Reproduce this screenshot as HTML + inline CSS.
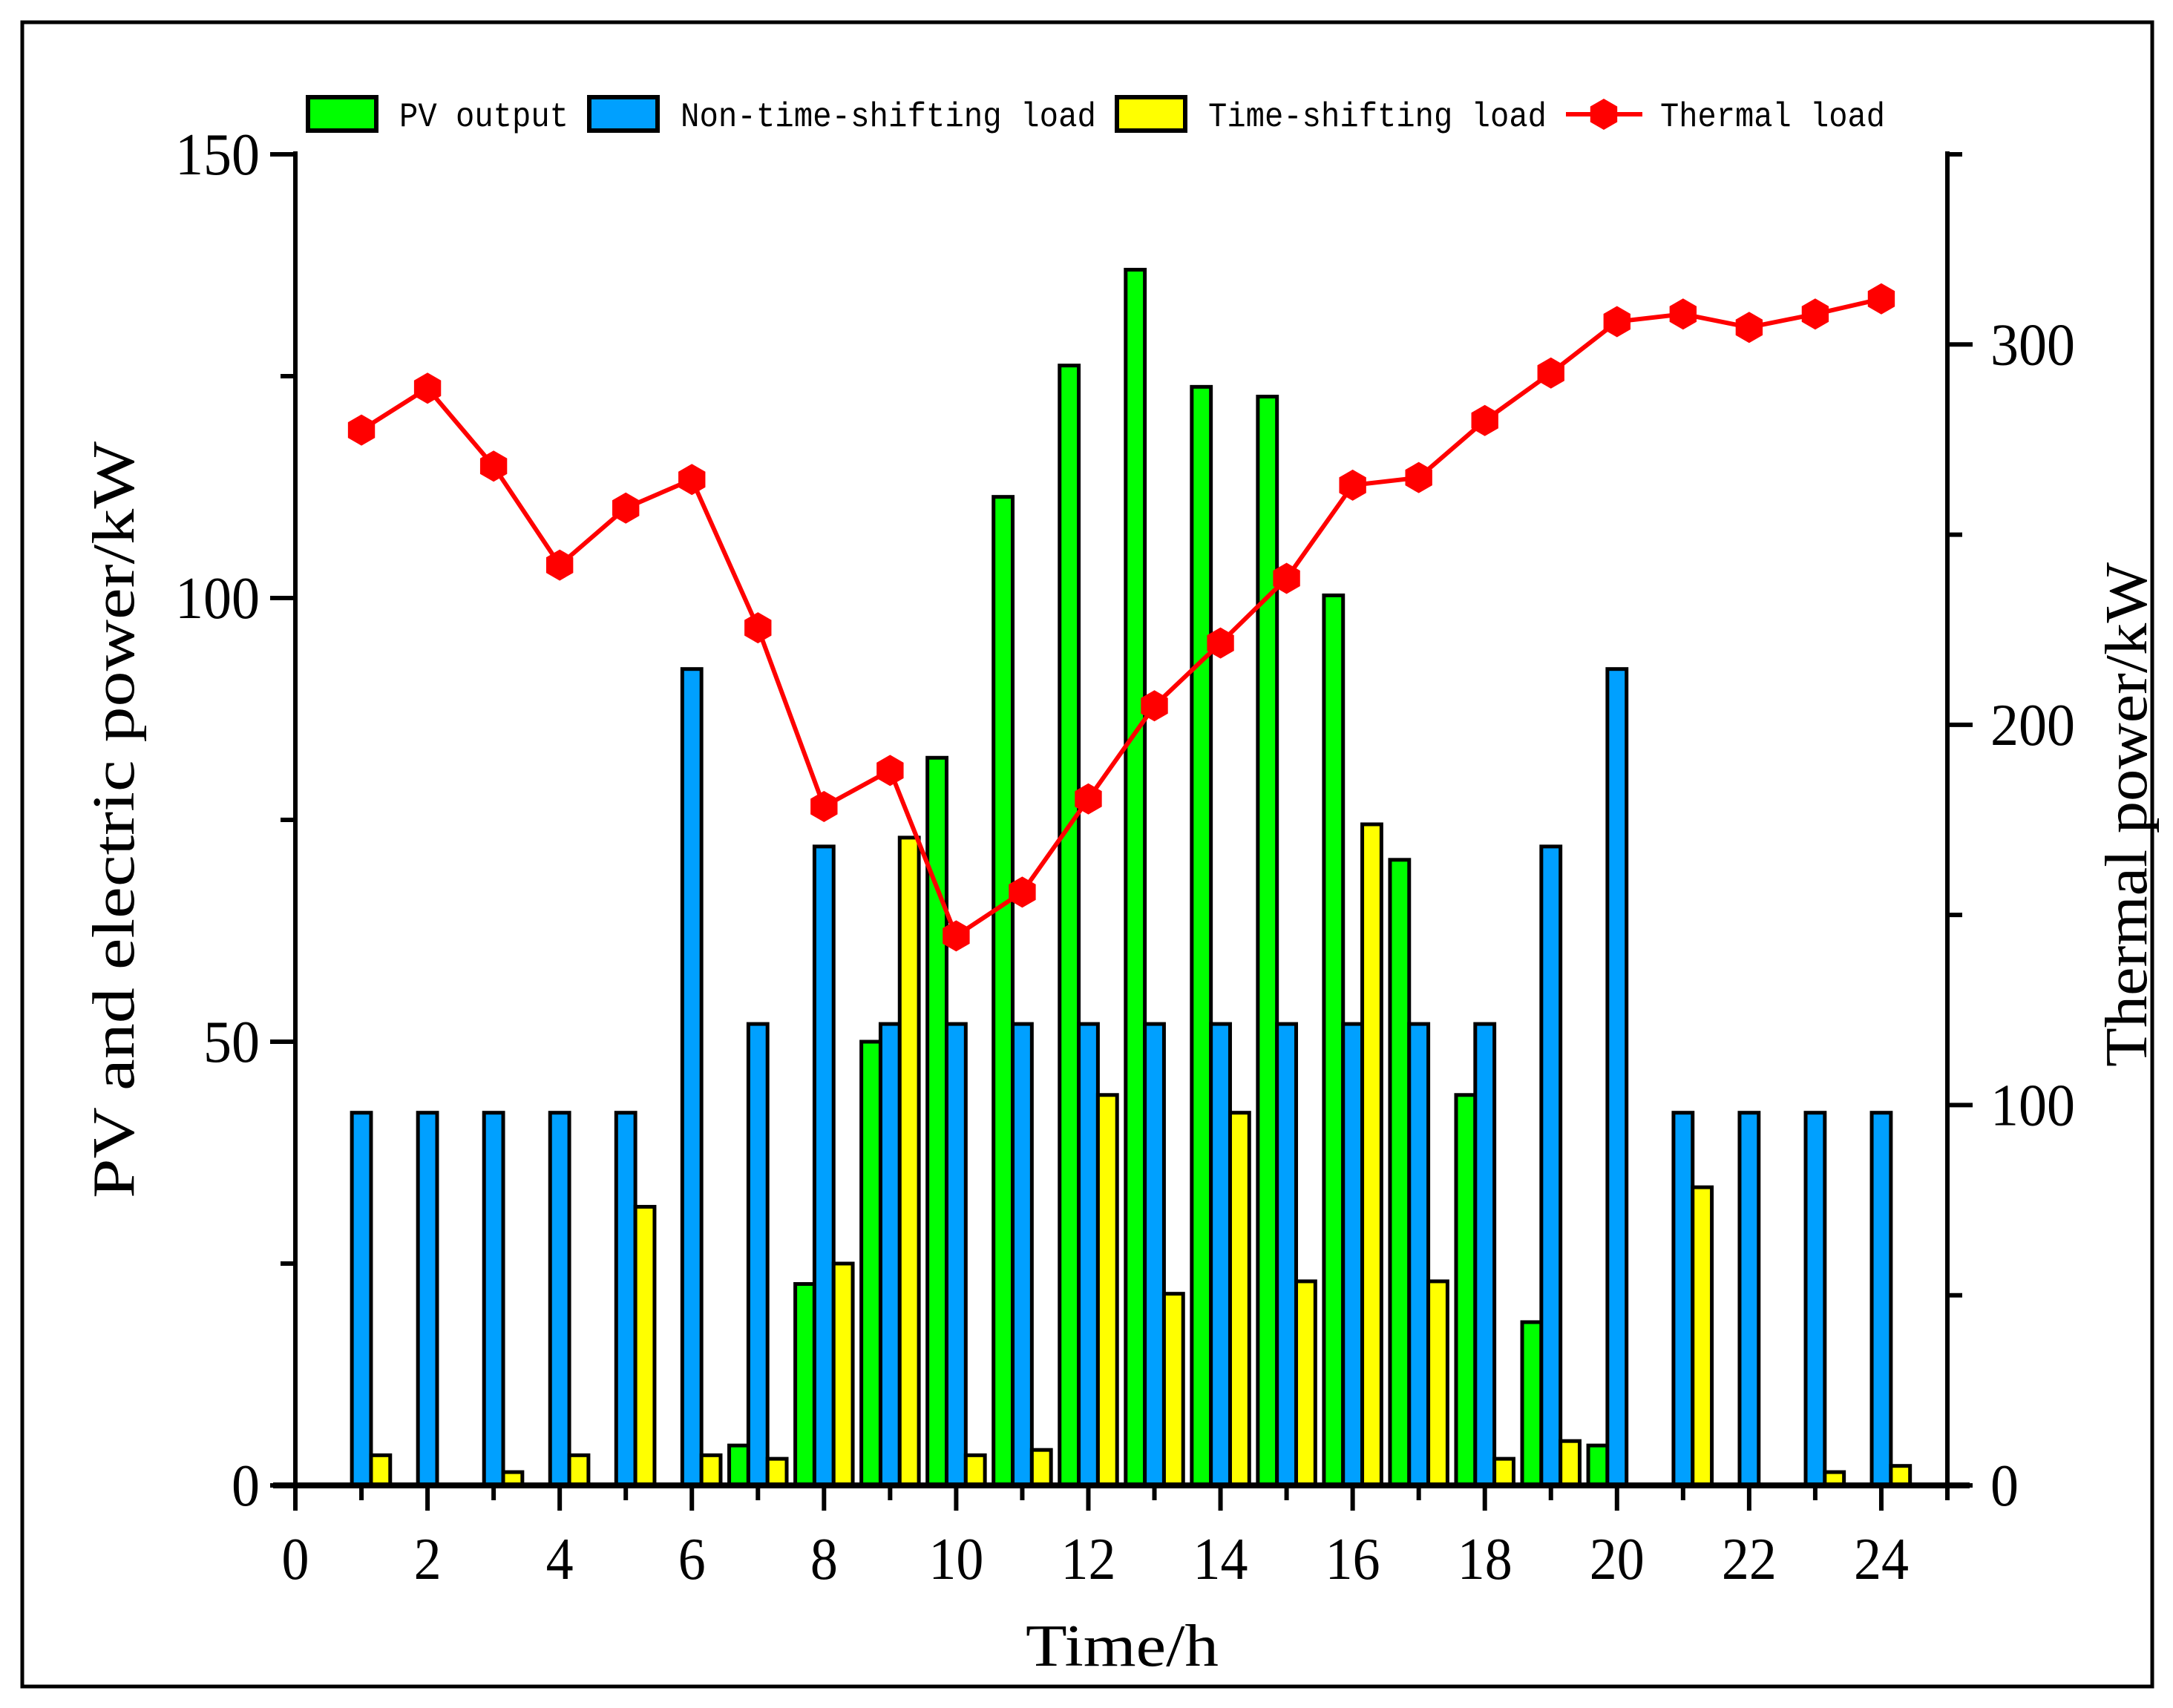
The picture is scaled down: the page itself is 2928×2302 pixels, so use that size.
<!DOCTYPE html>
<html><head><meta charset="utf-8"><style>
html,body{margin:0;padding:0;background:#fff;}
svg{display:block;}
text{font-family:"Liberation Serif","Noto Serif CJK SC",serif;fill:#000;}
.mono{font-family:"Liberation Mono","Noto Sans CJK SC",monospace;}
</style></head><body>
<svg id="chart" width="2928" height="2302" viewBox="0 0 2928 2302" xmlns="http://www.w3.org/2000/svg">
<rect x="30" y="30" width="2870" height="2243" fill="#fff" stroke="#000" stroke-width="5"/>
<g id="bars"></g>
<g id="line"></g>
<g id="axes"></g>
<g id="legend"></g>
<text x="1512" y="2245" font-size="80" text-anchor="middle" textLength="260" lengthAdjust="spacingAndGlyphs">Time/h</text>
<text transform="translate(180,1105) rotate(-90)" font-size="80" text-anchor="middle" textLength="1020" lengthAdjust="spacingAndGlyphs">PV and electric power/kW</text>
<text transform="translate(2892,1098) rotate(-90)" font-size="80" text-anchor="middle" textLength="680" lengthAdjust="spacingAndGlyphs">Thermal power/kW</text>
</svg>
<script>
const hours=[1,2,3,4,5,6,7,8,9,10,11,12,13,14,15,16,17,18,19,20,21,22,23,24];
const pvOutput=[0,0,0,0,0,0,4.5,22.7,50,82,111.4,126.2,137,123.8,122.7,100.3,70.5,44,18.4,4.5,0,0,0,0];
const nonShiftLoad=[42,42,42,42,42,92,52,72,52,52,52,52,52,52,52,52,52,52,72,92,42,42,42,42];
const shiftLoad=[3.4,0,1.5,3.4,31.4,3.4,3,25,73,3.4,4,44,21.6,42,23,74.5,23,3,5,0,33.6,0,1.5,2.2];
const thermalLoad=[277.5,288.5,268,242,257,264.5,225.5,178.5,188,144.5,156,180.5,205,221.5,238.5,263,265,280,292.5,306,308,304.5,308,312];
const xTicks=[0,2,4,6,8,10,12,14,16,18,20,22,24];
const leftTicks=[0,50,100,150];
const rightTicks=[0,100,200,300];

const NS="http://www.w3.org/2000/svg";
const L=398,R=2624,T=208,B=2002;
const X=v=>L+(v/25)*(R-L);
const YL=v=>B-(v/150)*(B-T);
const YR=v=>B-(v/350)*(B-T);
function mk(tag,attrs,parent){const e=document.createElementNS(NS,tag);for(const k in attrs)e.setAttribute(k,attrs[k]);parent.appendChild(e);return e;}
const bars=document.getElementById('bars'),line=document.getElementById('line'),axes=document.getElementById('axes'),legend=document.getElementById('legend');
const bw=X(0.29)-X(0);
const series=[[pvOutput,'#00ff00',-0.29,'pv-bar'],[nonShiftLoad,'#00a0ff',0,'non-shift-bar'],[shiftLoad,'#ffff00',0.29,'shift-bar']];
series.forEach(s=>{
  hours.forEach((h,i)=>{
    const v=s[0][i]; if(v<=0)return;
    const cx=X(h+s[2]);
    const r=mk('rect',{x:cx-bw/2,y:YL(v),width:bw,height:B-YL(v),fill:s[1],stroke:'#000','stroke-width':5},bars);
    
    
  });
});
const pts=hours.map((h,i)=>X(h)+','+YR(thermalLoad[i])).join(' ');
const pl=mk('polyline',{points:pts,fill:'none',stroke:'#ff0000','stroke-width':6},line);


function hex(cx,cy,r){let p=[];for(let k=0;k<6;k++){const a=Math.PI/3*k+Math.PI/6;p.push((cx+r*Math.cos(a))+','+(cy+r*Math.sin(a)));}return p.join(' ');}
hours.forEach((h,i)=>{
  const m=mk('polygon',{points:hex(X(h),YR(thermalLoad[i]),21),fill:'#ff0000'},line);
  
  
});
mk('line',{x1:L-30,y1:B,x2:R+30,y2:B,stroke:'#000','stroke-width':8},axes);
mk('line',{x1:L,y1:T-4,x2:L,y2:B+4,stroke:'#000','stroke-width':6},axes);
mk('line',{x1:R,y1:T-4,x2:R,y2:B+4,stroke:'#000','stroke-width':6},axes);
for(let h=0;h<=25;h++){
  const major=h%2===0;
  mk('line',{x1:X(h),y1:B,x2:X(h),y2:B+(major?34:20),stroke:'#000','stroke-width':6},axes);
}
xTicks.forEach(t=>{const s=String(t);const e=mk('text',{x:X(t),y:B+126,'font-size':80,'text-anchor':'middle',textLength:s.length*37,lengthAdjust:'spacingAndGlyphs'},axes);e.textContent=s;
  
  });
for(let v=0;v<=150;v+=25){const major=v%50===0;mk('line',{x1:L,y1:YL(v),x2:L-(major?34:20),y2:YL(v),stroke:'#000','stroke-width':6},axes);}
leftTicks.forEach(t=>{const s=String(t);const e=mk('text',{x:L-48,y:YL(t)+27,'font-size':80,'text-anchor':'end',textLength:s.length*38,lengthAdjust:'spacingAndGlyphs'},axes);e.textContent=s;
  
  });
for(let v=0;v<=350;v+=50){const major=v%100===0;mk('line',{x1:R,y1:YR(v),x2:R+(major?34:20),y2:YR(v),stroke:'#000','stroke-width':6},axes);}
rightTicks.forEach(t=>{const s=String(t);const e=mk('text',{x:R+58,y:YR(t)+27,'font-size':80,'text-anchor':'start',textLength:s.length*38,lengthAdjust:'spacingAndGlyphs'},axes);e.textContent=s;
  
  });
const leg=[['#00ff00','PV output',415,538,228],['#00a0ff','Non-time-shifting load',794,917,560],['#ffff00','Time-shifting load',1505,1628,456]];
leg.forEach(l=>{
  const g=mk('g',{},legend);
  
  
  mk('rect',{x:l[2],y:131,width:92,height:45,fill:l[0],stroke:'#000','stroke-width':6},g);
  const t=mk('text',{x:l[3],y:170,'font-size':46,class:'mono',textLength:l[4],lengthAdjust:'spacingAndGlyphs'},g);t.textContent=l[1];
});
const g4=mk('g',{},legend);


mk('line',{x1:2110,y1:154,x2:2213,y2:154,stroke:'#ff0000','stroke-width':6},g4);
mk('polygon',{points:hex(2161,154,21),fill:'#ff0000'},g4);
const t4=mk('text',{x:2237,y:170,'font-size':46,class:'mono',textLength:303,lengthAdjust:'spacingAndGlyphs'},g4);t4.textContent='Thermal load';
</script>
</body></html>
